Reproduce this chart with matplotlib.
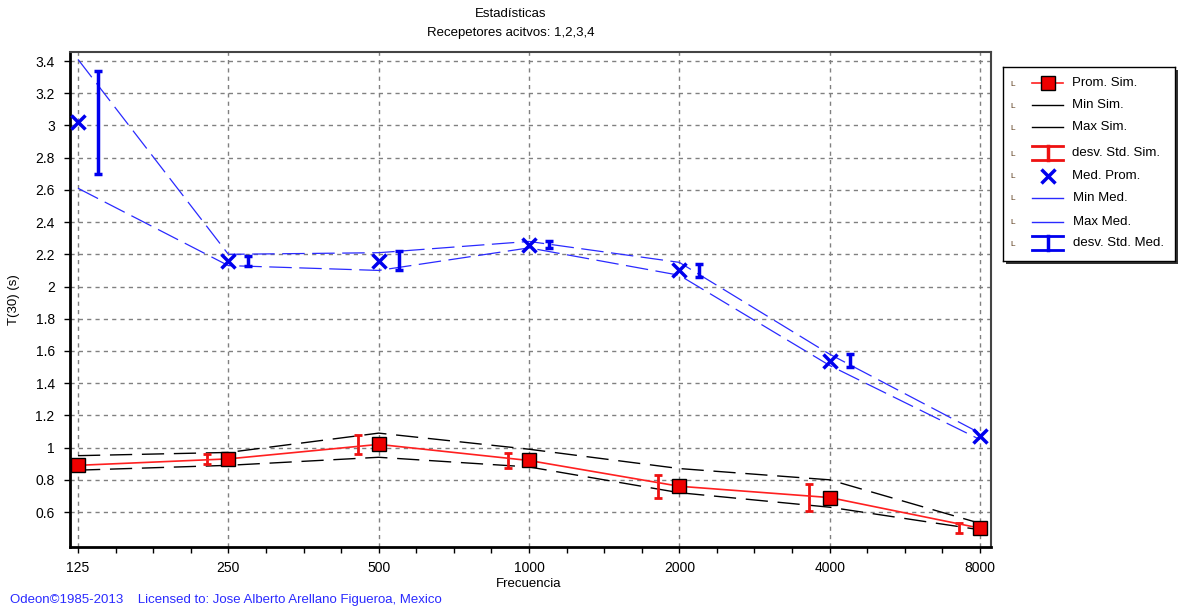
import matplotlib.pyplot as plt
from matplotlib.ticker import FixedLocator, FuncFormatter, NullFormatter
from matplotlib.patches import Rectangle
from matplotlib.lines import Line2D

plt.rcParams['font.family'] = ['Liberation Sans', 'DejaVu Sans']

# datos
freqs = [125, 250, 500, 1000, 2000, 4000, 8000]
freq_labels = ['125', '250', '500', '1000', '2000', '4000', '8000']

prom_sim = [0.89, 0.93, 1.02, 0.92, 0.76, 0.69, 0.50]
min_sim = [0.86, 0.89, 0.94, 0.88, 0.72, 0.63, 0.49]
max_sim = [0.95, 0.97, 1.09, 0.99, 0.87, 0.80, 0.53]
std_sim = [0.03, 0.03, 0.06, 0.045, 0.07, 0.085, 0.03]

med_prom = [3.02, 2.16, 2.16, 2.26, 2.10, 1.54, 1.07]
min_med = [2.61, 2.13, 2.10, 2.24, 2.07, 1.51, 1.05]
max_med = [3.41, 2.20, 2.21, 2.28, 2.15, 1.58, 1.09]
std_med = [0.32, 0.03, 0.06, 0.02, 0.04, 0.04, 0.03]

yticks = [0.6, 0.8, 1.0, 1.2, 1.4, 1.6, 1.8, 2.0, 2.2, 2.4, 2.6, 2.8, 3.0, 3.2, 3.4]

W, H = 1183, 609
fig = plt.figure(figsize=(W / 100, H / 100), dpi=100)
ax = fig.add_axes([70 / W, (H - 547) / H, (991 - 70) / W, (547 - 52) / H])

# desplazamiento de las barras de desviacion (en octavas)
off_sim = 2 ** (-21 / 150)
off_med = 2 ** (20 / 150)

dash_k = (16, 7)
dash_b = (18, 6)

ax.plot(freqs, min_sim, color='black', lw=1, dashes=dash_k, zorder=3)
ax.plot(freqs, max_sim, color='black', lw=1, dashes=dash_k, zorder=3)
ax.plot(freqs, min_med, color='#2a2aff', lw=0.9, dashes=dash_b, zorder=3)
ax.plot(freqs, max_med, color='#2a2aff', lw=0.9, dashes=dash_b, zorder=3)

ax.plot(freqs, prom_sim, color='#ff2020', lw=1.2, marker='s', ms=9.5,
        mfc='#ee0000', mec='black', mew=1, zorder=5)
ax.plot(freqs, med_prom, ls='none', marker='x', ms=9.5, mec='#0000ee',
        mew=2.5, zorder=5)

ax.errorbar([f * off_sim for f in freqs], prom_sim, yerr=std_sim, fmt='none',
            ecolor='#ee1111', elinewidth=2, capsize=3, capthick=2, zorder=4)
ax.errorbar([f * off_med for f in freqs], med_prom, yerr=std_med, fmt='none',
            ecolor='#0000ee', elinewidth=2.5, capsize=3, capthick=2.5, zorder=4)

ax.set_xscale('log')
ax.set_xlim(125 * 2 ** (-8 / 150), 8000 * 2 ** (11 / 150))
ax.set_ylim(0.383, 3.456)

ax.xaxis.set_major_locator(FixedLocator(freqs))
ax.xaxis.set_major_formatter(FuncFormatter(lambda v, p: freq_labels[freqs.index(int(round(v)))] if int(round(v)) in freqs else ''))
minors = [f * 2 ** (k / 4) for f in freqs[:-1] for k in (1, 2, 3)] + [8000 * 2 ** 0.25]
ax.xaxis.set_minor_locator(FixedLocator(minors))
ax.xaxis.set_minor_formatter(NullFormatter())
ax.yaxis.set_major_locator(FixedLocator(yticks))
ax.yaxis.set_major_formatter(FuncFormatter(lambda v, p: '%g' % round(v, 2)))

ax.tick_params(axis='both', which='major', direction='out', length=4, width=1,
               labelsize=10, colors='black', pad=7)
ax.tick_params(axis='x', which='minor', direction='out', length=4, width=1)
ax.tick_params(axis='x', pad=6)

ax.grid(True, which='major', color='#808080', ls=(0, (3, 3)), lw=1)
ax.set_axisbelow(True)

for s in ('left', 'bottom'):
    ax.spines[s].set_linewidth(2)
    ax.spines[s].set_color('black')
for s in ('top', 'right'):
    ax.spines[s].set_linewidth(1.5)
    ax.spines[s].set_color('#444444')

fig.text(511 / W, 1 - 14 / H, 'Estadísticas', ha='center', va='center', fontsize=9.5)
fig.text(511 / W, 1 - 33 / H, 'Recepetores acitvos: 1,2,3,4', ha='center', va='center', fontsize=9.5)
fig.text(14 / W, 1 - 300 / H, 'T(30) (s)', rotation=90, ha='center', va='center', fontsize=9.5)
fig.text(529 / W, 1 - 584 / H, 'Frecuencia', ha='center', va='center', fontsize=9.5)
fig.text(10 / W, 1 - 600 / H,
         'Odeon\u00a91985-2013    Licensed to: Jose Alberto Arellano Figueroa, Mexico',
         ha='left', va='center', fontsize=9.5, color='#2a2aff')

# leyenda dibujada a mano
lx0, ly0, lw_, lh_ = 1003, 67, 172, 194
shadow = Rectangle(((lx0 + 3) / W, 1 - (ly0 + lh_ + 3) / H), lw_ / W, lh_ / H,
                   transform=fig.transFigure, facecolor='#333333', edgecolor='none', zorder=-1)
fig.patches.append(shadow)
lax = fig.add_axes([lx0 / W, 1 - (ly0 + lh_) / H, lw_ / W, lh_ / H])
lax.set_zorder(2)
lax.set_xlim(0, lw_)
lax.set_ylim(lh_, 0)
lax.set_xticks([])
lax.set_yticks([])
lax.set_facecolor('white')
for s in lax.spines.values():
    s.set_linewidth(1)
    s.set_color('black')

labels = ['Prom. Sim.', 'Min Sim.', 'Max Sim.', 'desv. Std. Sim.',
          'Med. Prom.', 'Min Med.', 'Max Med.', 'desv. Std. Med.']
rows = [16, 38, 60, 86, 109, 131, 155, 176]
hx0, hx1 = 29, 60
hxc = (hx0 + hx1) / 2
for i, (lab, y) in enumerate(zip(labels, rows)):
    lax.text(10, y + 1, 'L', fontsize=6, color='#5a3a1a', ha='center', va='center')
    lax.text(69 if i < 5 else 70, y, lab, fontsize=9.5, ha='left', va='center')
    if i == 0:
        lax.add_line(Line2D([hx0, hx1], [y, y], color='#ff2020', lw=1.2))
        lax.plot([hxc], [y], marker='s', ms=9.5, mfc='#ee0000', mec='black', mew=1)
    elif i in (1, 2):
        lax.add_line(Line2D([hx0, hx1], [y, y], color='black', lw=1))
    elif i in (5, 6):
        lax.add_line(Line2D([hx0, hx1], [y, y], color='#2a2aff', lw=1))
    elif i == 4:
        lax.plot([hxc], [y], marker='x', ms=9.5, mec='#0000ee', mew=2.5)
    else:
        c = '#ee1111' if i == 3 else '#0000ee'
        lax.add_line(Line2D([hx0, hx1], [y - 7, y - 7], color=c, lw=2))
        lax.add_line(Line2D([hx0, hx1], [y + 7, y + 7], color=c, lw=2))
        lax.add_line(Line2D([hxc, hxc], [y - 7, y + 7], color=c, lw=2.5))

fig.savefig('out.png', dpi=100)
